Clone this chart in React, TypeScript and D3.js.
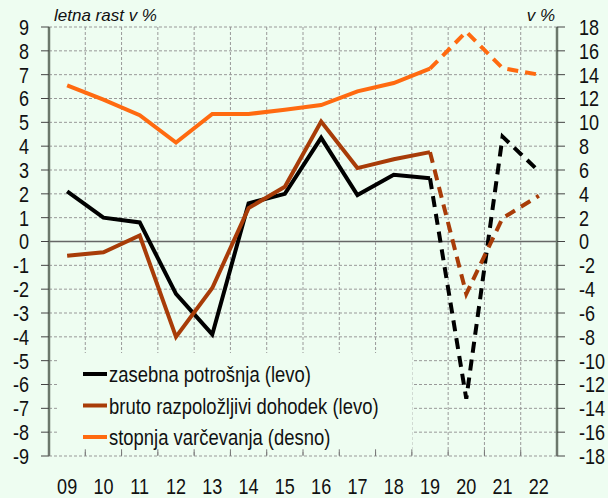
import React, { useEffect } from "react";
import * as d3 from "d3";

const categories = ["09", "10", "11", "12", "13", "14", "15", "16", "17", "18", "19", "20", "21", "22"];
const consumption = [2.1, 1.0, 0.8, -2.2, -3.9, 1.6, 2.0, 4.35, 1.95, 2.8, 2.65, -6.6, 4.4, 2.95];
const income = [-0.6, -0.45, 0.25, -4.0, -1.95, 1.4, 2.3, 5.03, 3.08, 3.45, 3.75, -2.2, 0.98, 1.92];
const savingRate = [13.1, 11.9, 10.6, 8.3, 10.7, 10.7, 11.05, 11.45, 12.6, 13.3, 14.5, 17.6, 14.55, 14.0];
const leftTicks = d3.range(-9, 10, 1);
const rightTicks = d3.range(-18, 19, 2);
const forecastStart = 10; // index from which lines are dashed
const legendLabels = ["zasebna potrošnja (levo)", "bruto razpoložljivi dohodek (levo)", "stopnja varčevanja (desno)"];

const W = 608, H = 498;
const M = { left: 49, right: 557, top: 27, bottom: 456 };
const BG = "#eefdf1";
const FONT = "'Liberation Sans', Arial, sans-serif";
const colors = ["#000000", "#a83c08", "#ff6a10"];
const NARROW = 0.82;

function NText(props: { x: number; y: number; anchor?: string; size: number; children: React.ReactNode }) {
  return (
    <text transform={`translate(${props.x},${props.y}) scale(${NARROW},1)`} textAnchor={props.anchor || "start"}
      dy="0.36em" fontSize={props.size} fill="#111">{props.children}</text>
  );
}

export default function App() {
  useEffect(() => {
    document.body.style.margin = "0";
  }, []);

  const x = d3.scaleBand<string>().domain(categories).range([M.left, M.right]);
  const yL = d3.scaleLinear().domain([-9, 9]).range([M.bottom, M.top]);
  const yR = d3.scaleLinear().domain([-18, 18]).range([M.bottom, M.top]);
  const cx = (i: number) => (x(categories[i]) as number) + x.bandwidth() / 2;

  const series = [
    { values: consumption, y: yL, color: colors[0] },
    { values: income, y: yL, color: colors[1] },
    { values: savingRate, y: yR, color: colors[2] },
  ];

  const line = (vals: number[], ys: d3.ScaleLinear<number, number>, from: number, to: number) =>
    d3.line<number>().x((_, i) => cx(from + i)).y((v) => ys(v))(vals.slice(from, to + 1)) as string;

  const bounds = categories.map((c) => x(c) as number).concat([M.right]);

  return (
    <div style={{ position: "fixed", left: 0, top: 0, width: W, height: H }}>
      <svg width={W} height={H} style={{ display: "block", fontFamily: FONT }}>
        <rect x={0} y={0} width={W} height={H} fill={BG} />
        {leftTicks.map((t) => (
          <line key={"h" + t} x1={M.left} x2={M.right} y1={yL(t)} y2={yL(t)}
            stroke={t === 0 ? "#666" : "#999"} strokeWidth={t === 0 ? 1.5 : 1}
            strokeDasharray={t === 0 ? undefined : "3,2"} />
        ))}
        {bounds.slice(1, -1).map((b, i) => (
          <line key={"v" + i} x1={b} x2={b} y1={M.top} y2={M.bottom} stroke="#999" strokeDasharray="3,2" />
        ))}
        <rect x={57} y={353} width={355} height={96} fill={BG} />
        <line x1={M.left} x2={M.left} y1={M.top} y2={M.bottom} stroke="#6b786b" strokeWidth={2.5} />
        <line x1={M.right} x2={M.right} y1={M.top} y2={M.bottom} stroke="#6b786b" strokeWidth={2.5} />
        {leftTicks.map((t) => (
          <g key={"lt" + t}>
            <line x1={M.left - 8} x2={M.left} y1={yL(t)} y2={yL(t)} stroke="#444" strokeWidth={1} />
            <NText x={29} y={yL(t)} anchor="end" size={22}>{t}</NText>
          </g>
        ))}
        {rightTicks.map((t) => (
          <g key={"rt" + t}>
            <line x1={M.right} x2={M.right + 8} y1={yR(t)} y2={yR(t)} stroke="#444" strokeWidth={1} />
            <NText x={579} y={yR(t)} size={22}>{t}</NText>
          </g>
        ))}
        {bounds.map((b, i) => (
          <line key={"xt" + i} x1={b} x2={b} y1={M.bottom} y2={M.bottom - 6} stroke="#777" strokeWidth={1} />
        ))}
        {categories.map((c, i) => (
          <NText key={"xl" + c} x={cx(i)} y={486} anchor="middle" size={22}>{c}</NText>
        ))}
        <text x={54} y={21} fontSize={17} fontStyle="italic" fill="#111">letna rast v %</text>
        <text x={555} y={21} fontSize={17} fontStyle="italic" textAnchor="end" fill="#111">v %</text>
        {series.map((s, k) => (
          <g key={"s" + k}>
            <path d={line(s.values, s.y, 0, forecastStart)} fill="none" stroke={s.color} strokeWidth={4} />
            <path d={line(s.values, s.y, forecastStart, categories.length - 1)} fill="none" stroke={s.color} strokeWidth={4} strokeDasharray="11,7" />
          </g>
        ))}
        {legendLabels.map((l, i) => (
          <g key={"lg" + i}>
            <line x1={83} x2={107} y1={374 + i * 31.5} y2={374 + i * 31.5} stroke={colors[i]} strokeWidth={4} />
            <NText x={109} y={374 + i * 31.5} size={22.5}>{l}</NText>
          </g>
        ))}
      </svg>
    </div>
  );
}
